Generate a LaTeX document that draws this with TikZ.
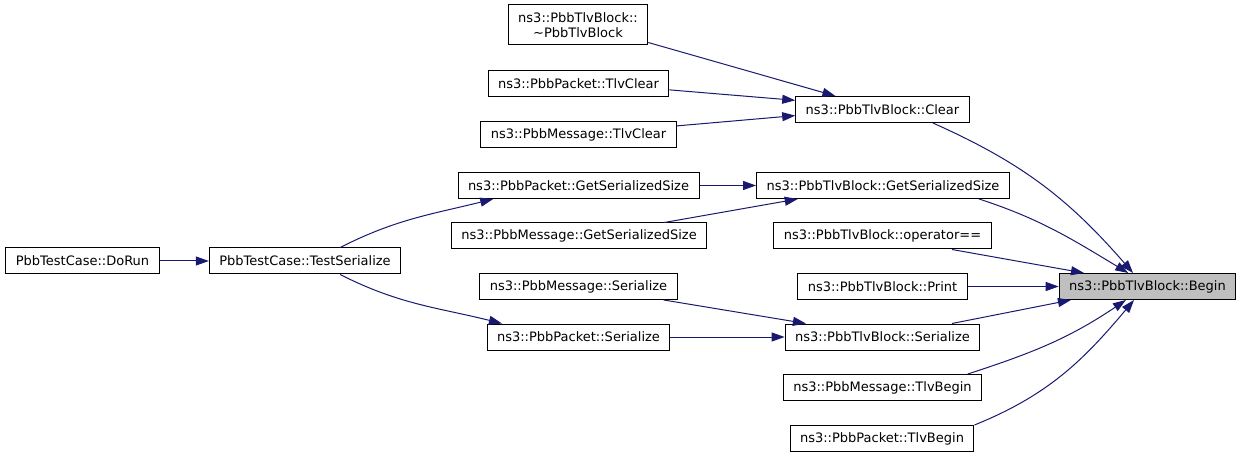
\documentclass[tikz,border=0pt]{standalone}
\usepackage{fontspec}
\setmainfont{DejaVu Sans}
\usepackage{xcolor}
\usetikzlibrary{arrows.meta}
\definecolor{edgeblue}{HTML}{191970}
\definecolor{selgray}{HTML}{BFBFBF}
\tikzset{
 fn/.style={rectangle,draw,line width=1pt,inner xsep=10pt,inner ysep=2pt,minimum height=26pt,align=center,font=\fontsize{13}{15}\selectfont},
 sel/.style={fn,fill=selgray},
 call/.style={draw=edgeblue,line width=1pt,-{Triangle[length=13pt,width=9pt]}}
}
\begin{document}
\begin{tikzpicture}[x=1pt,y=1pt]
\useasboundingbox (0,0) rectangle (1243,-457);

 \node at (578,-25) [fn,minimum height=40pt] (1) {ns3::PbbTlvBlock::\\\textasciitilde PbbTlvBlock};
 \node at (578.5,-83.5) [fn] (2) {ns3::PbbPacket::TlvClear};
 \node at (578.5,-134.5) [fn] (3) {ns3::PbbMessage::TlvClear};
 \node at (882.5,-109.5) [fn] (4) {ns3::PbbTlvBlock::Clear};
 \node at (578.5,-185.5) [fn] (5) {ns3::PbbPacket::GetSerializedSize};
 \node at (883,-185.5) [fn] (6) {ns3::PbbTlvBlock::GetSerializedSize};
 \node at (579,-236) [fn] (7) {ns3::PbbMessage::GetSerializedSize};
 \node at (882.5,-236) [fn] (8) {ns3::PbbTlvBlock::operator==};
 \node at (82.5,-261) [fn] (9) {PbbTestCase::DoRun};
 \node at (305,-261) [fn] (10) {PbbTestCase::TestSerialize};
 \node at (578.5,-286.5) [fn] (11) {ns3::PbbMessage::Serialize};
 \node at (882.5,-286.5) [fn] (12) {ns3::PbbTlvBlock::Print};
 \node at (1147.5,-286.5) [sel] (13) {ns3::PbbTlvBlock::Begin};
 \node at (578.5,-337) [fn] (14) {ns3::PbbPacket::Serialize};
 \node at (882.5,-337) [fn] (15) {ns3::PbbTlvBlock::Serialize};
 \node at (882.5,-387.5) [fn] (16) {ns3::PbbMessage::TlvBegin};
 \node at (882,-438.5) [fn] (17) {ns3::PbbPacket::TlvBegin};

 \draw[call] (9)--(10);
 \draw[call] (10.21.5) to[out=27,in=194] (5.189.5);
 \draw[call] (10.-21.5) to[out=-27,in=166] (14.170.7);
 \draw[call] (5)--(6);\draw[call] (7.9.7)--(6.189.5);
 \draw[call] (11.-9.3)--(15.170.9);\draw[call] (14)--(15);
 \draw[call] (1.-14.2)--(4.164.3);
 \draw[call] (2.-4.7)--(4.174.5);
 \draw[call] (3.5)--(4.184.9);
 \draw[call] (4.-15.7) to[out=-24,in=131] (13.137);
 \draw[call] (6.-8.6) to[out=-18,in=149] (13.145.3);
 \draw[call] (8.-11.1)--(13.168.5);
 \draw[call] (12)--(13);
 \draw[call] (15.11.1)--(13.190.6);
 \draw[call] (16.9.2) to[out=18,in=214] (13.212.7);
 \draw[call] (17.north east) to[out=22,in=230] (13.225);
\end{tikzpicture}
\end{document}
